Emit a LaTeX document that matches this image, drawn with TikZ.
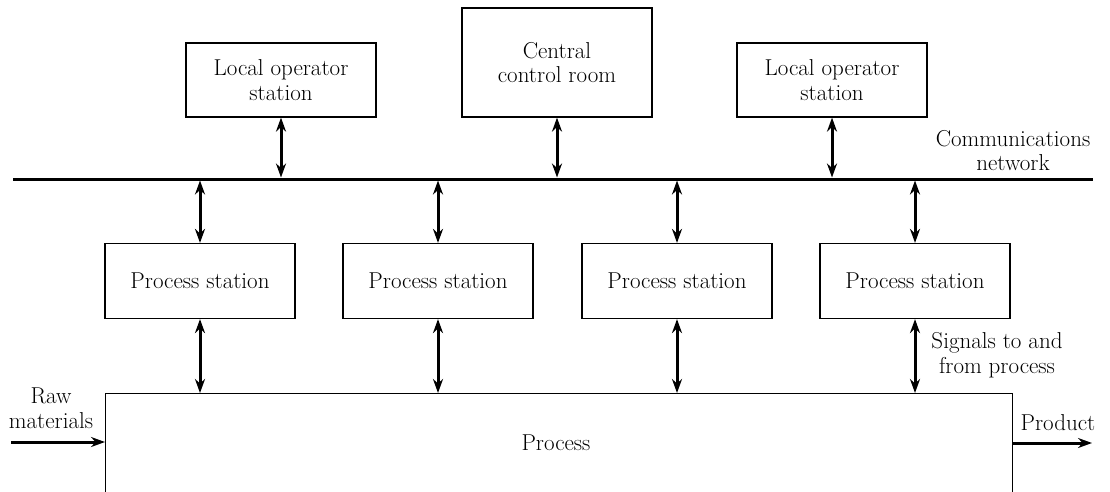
\documentclass[tikz,border=0pt]{standalone}
\usetikzlibrary{arrows.meta}
\begin{document}
\begin{tikzpicture}[x=1pt,y=-1pt,
  box/.style={draw, line width=1.2pt, align=center, inner sep=0pt},
  lbl/.style={align=center, inner sep=0pt},
  dbl/.style={line width=3pt, {Stealth[length=14pt,width=10pt]}-{Stealth[length=14pt,width=10pt]}},
  sgl/.style={line width=3pt, -{Stealth[length=14pt,width=10pt]}},
  font=\fontsize{23}{24.5}\selectfont]
\useasboundingbox (0,0) rectangle (1110,492);
% top boxes
\node[box, minimum width=190pt, minimum height=74pt] (lo1) at (281,80) {Local operator\\station};
\node[box, minimum width=190pt, minimum height=109pt] (ccr) at (557,62.5) {Central\\control room};
\node[box, minimum width=190pt, minimum height=74pt] (lo2) at (832,80) {Local operator\\station};
% network
\coordinate (nL) at (13,179);
\coordinate (nR) at (1093,179);
\draw[line width=3pt] (nL) -- (nR);
\node[lbl, anchor=south] (cn) at (1013,171) {Communications\\network};
% process stations
\node[box, minimum width=190pt, minimum height=75pt] (ps1) at (200,281) {Process station};
\node[box, minimum width=190pt, minimum height=75pt] (ps2) at (438,281) {Process station};
\node[box, minimum width=190pt, minimum height=75pt] (ps3) at (677,281) {Process station};
\node[box, minimum width=190pt, minimum height=75pt] (ps4) at (915,281) {Process station};
% process
\node[box, minimum width=907pt, minimum height=200pt, anchor=north west] (proc) at (105,393) {};
\node[lbl] (proct) at (556,443) {Process};
% network coordinates
\coordinate (t1) at (281,177.5);
\coordinate (t2) at (557,177.5);
\coordinate (t3) at (832,177.5);
\coordinate (b1) at (200,180.5);
\coordinate (b2) at (438,180.5);
\coordinate (b3) at (677,180.5);
\coordinate (b4) at (915,180.5);
\draw[dbl] (lo1.south) -- (t1);
\draw[dbl] (ccr.south) -- (t2);
\draw[dbl] (lo2.south) -- (t3);
\draw[dbl] (b1) -- (ps1.north);
\draw[dbl] (b2) -- (ps2.north);
\draw[dbl] (b3) -- (ps3.north);
\draw[dbl] (b4) -- (ps4.north);
\draw[dbl] (ps1.south) -- (ps1.south |- proc.north);
\draw[dbl] (ps2.south) -- (ps2.south |- proc.north);
\draw[dbl] (ps3.south) -- (ps3.south |- proc.north);
\draw[dbl] (ps4.south) -- (ps4.south |- proc.north);
\node[lbl] (sig) at (997,355) {Signals to and\\from process};
% raw materials and product
\coordinate (rawS) at (11,442);
\draw[sgl] (rawS) -- (rawS -| proc.west);
\node[lbl] (raw) at (51,408) {Raw\\materials};
\coordinate (prodE) at (1092,443);
\draw[sgl] (prodE -| proc.east) -- (prodE);
\node[lbl] (prod) at (1058,423) {Product};
\end{tikzpicture}
\end{document}
